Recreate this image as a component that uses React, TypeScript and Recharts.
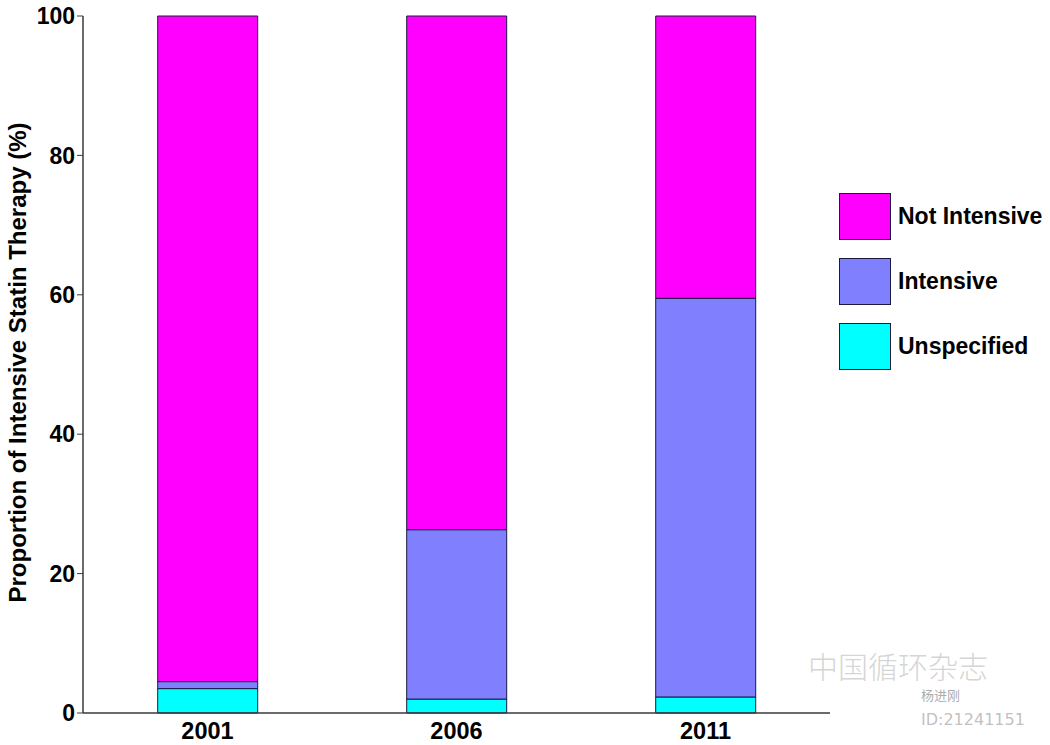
import React from 'react';
import { BarChart, Bar, XAxis, YAxis, Legend, Label } from 'recharts';

const years = ['2001', '2006', '2011'];
const unspecified = [3.5, 2.0, 2.3];
const intensive = [1.0, 24.3, 57.2];
const notIntensive = [95.5, 73.7, 40.5];
const yTicks = [0, 20, 40, 60, 80, 100];

const seriesNames = ['Unspecified', 'Intensive', 'Not Intensive'];
const seriesKeys = ['unspecified', 'intensive', 'notIntensive'];
const seriesColors = ['#00FFFF', '#8080FF', '#FF00FF'];

const data = years.map((y, i) => ({
  year: y,
  unspecified: unspecified[i],
  intensive: intensive[i],
  notIntensive: notIntensive[i],
}));

const FONT = '"Liberation Sans", Arial, Helvetica, sans-serif';
const AXIS = '#3a3a3a';
const EDGE = '#1a1a40';

const LegendContent = () => {
  const order = [2, 1, 0];
  return (
    <div style={{ fontFamily: FONT }}>
      {order.map((i, k) => (
        <div
          key={seriesKeys[i]}
          style={{ display: 'flex', alignItems: 'center', height: 47, marginBottom: k < 2 ? 18 : 0 }}
        >
          <div
            style={{
              width: 50,
              height: 45,
              background: seriesColors[i],
              border: `1px solid ${EDGE}`,
              boxSizing: 'content-box',
            }}
          />
          <span style={{ marginLeft: 7, fontSize: 23, fontWeight: 'bold', color: '#000' }}>
            {seriesNames[i]}
          </span>
        </div>
      ))}
    </div>
  );
};

const YLabel = (props: any) => {
  const vb = props.viewBox || { x: 0, y: 16, width: 83, height: 697 };
  const cx = vb.x + 17;
  const cy = vb.y + vb.height / 2 - 2;
  return (
    <text
      x={cx}
      y={cy}
      transform={`rotate(-90, ${cx}, ${cy})`}
      textAnchor="middle"
      dominantBaseline="central"
      fontFamily={FONT}
      fontSize={24}
      fontWeight="bold"
      fill="#000"
    >
      Proportion of Intensive Statin Therapy (%)
    </text>
  );
};

export default function App() {
  return (
    <div style={{ position: 'absolute', left: 0, top: 0, width: 1050, height: 745, background: '#fff' }}>
      <BarChart
        width={1050}
        height={745}
        data={data}
        margin={{ top: 16, right: 220, left: 0, bottom: 2 }}
        barCategoryGap="30%"
      >
        <XAxis
          dataKey="year"
          height={30}
          tickLine={false}
          axisLine={{ stroke: AXIS, strokeWidth: 1.5 }}
          tick={{ fontFamily: FONT, fontSize: 23.5, fontWeight: 'bold', fill: '#000' }}
          tickMargin={3}
        />
        <YAxis
          width={83}
          domain={[0, 100]}
          ticks={yTicks}
          interval={0}
          tickSize={6}
          tickLine={{ stroke: AXIS }}
          axisLine={{ stroke: AXIS, strokeWidth: 1.5 }}
          tick={{ fontFamily: FONT, fontSize: 23, fontWeight: 'bold', fill: '#000' }}
          label={<Label content={YLabel} />}
        />
        <Legend
          layout="vertical"
          align="center"
          verticalAlign="middle"
          content={LegendContent}
          wrapperStyle={{ position: 'absolute', left: 839, top: 193, width: 210, height: 'auto' }}
        />
        {seriesKeys.map((k, i) => (
          <Bar
            key={k}
            dataKey={k}
            name={seriesNames[i]}
            stackId="a"
            fill={seriesColors[i]}
            stroke={EDGE}
            strokeWidth={1}
            isAnimationActive={false}
          />
        ))}
      </BarChart>
      <div
        style={{
          position: 'absolute',
          left: 808,
          top: 650,
          fontFamily: '"Noto Sans CJK SC", sans-serif',
          fontSize: 30,
          lineHeight: 1,
          fontWeight: 300,
          color: 'rgba(200,200,200,0.75)',
          pointerEvents: 'none',
          whiteSpace: 'nowrap',
        }}
      >
        中国循环杂志
      </div>
      <div
        style={{
          position: 'absolute',
          left: 921,
          top: 688,
          fontFamily: '"Noto Sans CJK SC", sans-serif',
          fontSize: 13,
          lineHeight: 1,
          color: 'rgba(150,150,150,0.8)',
          whiteSpace: 'nowrap',
        }}
      >
        杨进刚
      </div>
      <div
        style={{
          position: 'absolute',
          left: 921,
          top: 712,
          fontFamily: '"DejaVu Sans", sans-serif',
          fontSize: 16,
          lineHeight: 1,
          color: 'rgba(185,185,185,0.9)',
          whiteSpace: 'nowrap',
        }}
      >
        ID:21241151
      </div>
    </div>
  );
}
